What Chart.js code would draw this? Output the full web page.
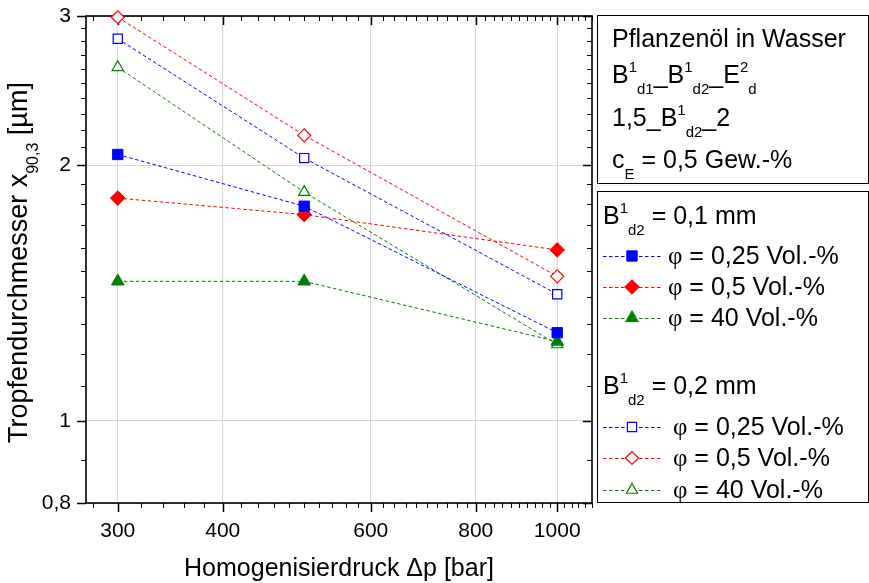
<!DOCTYPE html>
<html>
<head>
<meta charset="utf-8">
<script src="https://cdn.jsdelivr.net/npm/chart.js@4"></script>
<style>
  html, body { margin: 0; padding: 0; background: #fff; }
  canvas { display: block; }
</style>
</head>
<body>
<canvas id="chart" width="869" height="583"></canvas>
<script>
/* Tropfengröße x90,3 über Homogenisierdruck, log-log, zwei Blendendurchmesser. */

const SANS = '"Liberation Sans", Arial, sans-serif';
const SERIF = '"Liberation Serif", "Times New Roman", serif';

const druck = [300, 500, 1000];                 // bar
const b01_phi025 = [2.06, 1.79, 1.27];          // µm
const b01_phi05 = [1.83, 1.75, 1.59];
const b01_phi40 = [1.46, 1.46, 1.24];
const b02_phi025 = [2.82, 2.04, 1.41];
const b02_phi05 = [2.99, 2.17, 1.48];
const b02_phi40 = [2.61, 1.86, 1.23];

const xTicks = [300, 400, 600, 800, 1000];
const yTicks = [0.8, 1, 2, 3];
const xRange = [275, 1100];
const yRange = [0.8, 3];

const phiLabels = [" = 0,25 Vol.-%", " = 0,5 Vol.-%", " = 40 Vol.-%"];

const BLUE = "#0000ff", RED = "#ff0000", GREEN = "#008000";

// minor tick positions: every 20 bar on x, every 0.1 µm on y
const xMinor = [];
for (let v = 280; v <= 1100; v += 20) if (!xTicks.includes(v)) xMinor.push(v);
const yMinor = [];
for (let i = 9; i <= 29; i++) if (i % 10 !== 0) yMinor.push(i / 10);

function pts(ys) {
  return druck.map((x, i) => ({ x, y: ys[i] }));
}

function series(label, ys, color, style, filled) {
  return {
    label,
    data: pts(ys),
    borderColor: color,
    borderWidth: 1,
    borderDash: [3.5, 2.5],
    pointStyle: style,
    pointRadius: filled ? 7.3 : 6.5,
    pointBorderWidth: filled ? 1 : 1.2,
    pointBackgroundColor: filled ? color : "#ffffff",
    pointBorderColor: color,
    clip: false,
  };
}

const datasets = [
  series("0,1 mm / 0,25", b01_phi025, BLUE, "rect", true),
  series("0,1 mm / 0,5", b01_phi05, RED, "rectRot", true),
  series("0,1 mm / 40", b01_phi40, GREEN, "triangle", true),
  series("0,2 mm / 0,25", b02_phi025, BLUE, "rect", false),
  series("0,2 mm / 0,5", b02_phi05, RED, "rectRot", false),
  series("0,2 mm / 40", b02_phi40, GREEN, "triangle", false),
];

/* text with Origin-style super-/subscripts: parts = [text, kind, family] */
function richText(ctx, x, y, parts, size) {
  let cx = x;
  for (const [txt, kind, family] of parts) {
    const small = kind === "sup" || kind === "sub";
    const fs = small ? Math.round(size * 0.6) : size;
    ctx.font = `${fs}px ${family || SANS}`;
    const dy = kind === "sup" ? -size * 0.45 : kind === "sub" ? size * 0.42 : 0;
    ctx.fillText(txt, cx, y + dy);
    cx += ctx.measureText(txt).width;
  }
  return cx;
}

function richWidth(ctx, parts, size) {
  let w = 0;
  for (const [txt, kind, family] of parts) {
    const small = kind === "sup" || kind === "sub";
    ctx.font = `${small ? Math.round(size * 0.6) : size}px ${family || SANS}`;
    w += ctx.measureText(txt).width;
  }
  return w;
}

const frame = {
  id: "frame",
  beforeDatasetsDraw(chart) {
    const { ctx, chartArea: a } = chart;
    const xs = chart.scales.x, ys = chart.scales.y;
    ctx.save();
    ctx.strokeStyle = "#000";
    ctx.lineWidth = 1;
    ctx.beginPath();
    const tick = (vals, len) => {
      for (const v of vals) {
        const px = Math.round(xs.getPixelForValue(v)) + 0.5;
        ctx.moveTo(px, a.bottom); ctx.lineTo(px, a.bottom + len);
        ctx.moveTo(px, a.top); ctx.lineTo(px, a.top + len);
      }
    };
    const ytick = (vals, len) => {
      for (const v of vals) {
        const py = Math.round(ys.getPixelForValue(v)) + 0.5;
        ctx.moveTo(a.left, py); ctx.lineTo(a.left - len, py);
        ctx.moveTo(a.right, py); ctx.lineTo(a.right - len, py);
      }
    };
    tick(xMinor, 5); ytick(yMinor, 5);
    ctx.stroke();
    ctx.lineWidth = 1.5;
    ctx.beginPath();
    tick(xTicks, 9); ytick(yTicks, 9);
    ctx.stroke();
    ctx.lineWidth = 1.6;
    ctx.strokeRect(a.left, a.top, a.right - a.left, a.bottom - a.top);
    ctx.restore();
  },
  afterDraw(chart) {
    const { ctx, chartArea: a } = chart;
    ctx.save();
    ctx.fillStyle = "#000";
    ctx.textBaseline = "alphabetic";

    // x title
    const xt = [["Homogenisierdruck \u0394p [bar]"]];
    const xw = richWidth(ctx, xt, 25);
    richText(ctx, (a.left + a.right) / 2 - xw / 2, 576, xt, 25);

    // y title, rotated
    const yt = [["Tropfendurchmesser x"], ["90,3", "sub"], [" [\u00b5m]"]];
    const yw = richWidth(ctx, yt, 27);
    ctx.save();
    ctx.translate(27, (a.top + a.bottom) / 2 + 3);
    ctx.rotate(-Math.PI / 2);
    richText(ctx, -yw / 2, 0, yt, 27);
    ctx.restore();

    // info box
    ctx.strokeStyle = "#000";
    ctx.lineWidth = 1;
    ctx.strokeRect(597.5, 15.5, 271, 168);
    const info = [
      [["Pflanzen\u00f6l in Wasser"]],
      [["B"], ["1", "sup"], ["d1", "sub"], ["_"], ["B"], ["1", "sup"], ["d2", "sub"], ["_"], ["E"], ["2", "sup"], ["d", "sub"]],
      [["1,5_B"], ["1", "sup"], ["d2", "sub"], ["_2"]],
      [["c"], ["E", "sub"], [" = 0,5 Gew.-%"]],
    ];
    const infoY = [47, 83, 126, 168];
    info.forEach((parts, i) => richText(ctx, 612, infoY[i], parts, 25));

    // legend box
    ctx.strokeRect(597.5, 191.5, 271, 311);
    const groups = [
      { head: " = 0,1 mm", y: 224, rows: [256, 287, 318], tx: 668, sets: datasets.slice(0, 3) },
      { head: " = 0,2 mm", y: 394, rows: [427, 458, 490], tx: 673, sets: datasets.slice(3, 6) },
    ];
    for (const g of groups) {
      ctx.fillStyle = "#000";
      richText(ctx, 603, g.y, [["B"], ["1", "sup"], ["d2", "sub"], [g.head]], 25);
      g.sets.forEach((ds, i) => {
        const y = g.rows[i];
        ctx.save();
        ctx.strokeStyle = ds.borderColor;
        ctx.lineWidth = 1;
        ctx.setLineDash(ds.borderDash);
        ctx.beginPath();
        ctx.moveTo(603, y + 0.5); ctx.lineTo(661, y + 0.5);
        ctx.stroke();
        ctx.setLineDash([]);
        ctx.fillStyle = ds.pointBackgroundColor;
        ctx.strokeStyle = ds.pointBorderColor;
        ctx.lineWidth = ds.pointBorderWidth;
        Chart.helpers.drawPoint(ctx, {
          pointStyle: ds.pointStyle, radius: ds.pointRadius,
          borderWidth: ds.pointBorderWidth, rotation: 0,
        }, 632, y);
        ctx.restore();
        ctx.fillStyle = "#000";
        richText(ctx, g.tx, y + 8, [["\u03c6", null, SERIF], [phiLabels[i]]], 25);
      });
    }
    ctx.restore();
  },
};

new Chart(document.getElementById("chart"), {
  type: "line",
  data: { datasets },
  plugins: [frame],
  options: {
    responsive: false,
    animation: false,
    events: [],
    layout: { padding: { top: 16, right: 277, left: 0, bottom: 0 } },
    plugins: { legend: { display: false }, tooltip: { enabled: false } },
    scales: {
      x: {
        type: "logarithmic",
        min: xRange[0], max: xRange[1],
        afterBuildTicks: (s) => { s.ticks = xTicks.map((value) => ({ value })); },
        afterFit: (s) => { s.height = 80; s.paddingLeft = 0; s.paddingRight = 0; },
        ticks: {
          color: "#000", padding: 16, autoSkip: false, maxRotation: 0,
          font: { family: SANS, size: 21 },
          callback: (v) => String(v),
        },
        grid: { color: "#d6d6d6", lineWidth: 1, drawTicks: false },
        border: { display: false },
      },
      y: {
        type: "logarithmic",
        min: yRange[0], max: yRange[1],
        afterBuildTicks: (s) => { s.ticks = yTicks.map((value) => ({ value })); },
        afterFit: (s) => { s.width = 86; s.paddingTop = 0; s.paddingBottom = 0; },
        ticks: {
          color: "#000", padding: 15, autoSkip: false,
          font: { family: SANS, size: 21 },
          callback: (v) => String(v).replace(".", ","),
        },
        grid: { color: "#d6d6d6", lineWidth: 1, drawTicks: false },
        border: { display: false },
      },
    },
  },
});
</script>
</body>
</html>
